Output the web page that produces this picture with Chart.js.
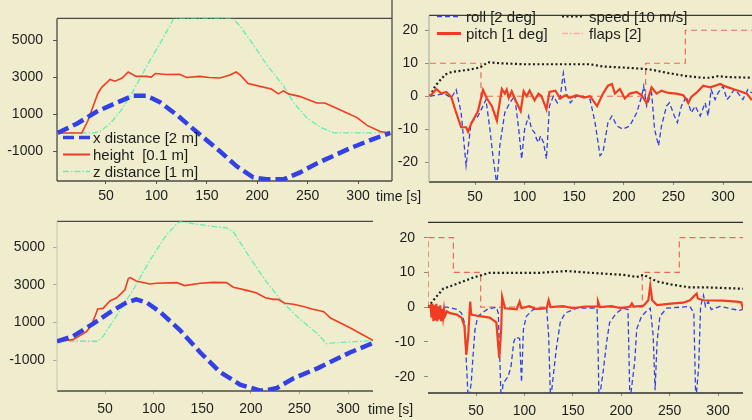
<!DOCTYPE html>
<html>
<head>
<meta charset="utf-8">
<script src="https://cdn.jsdelivr.net/npm/chart.js@4.4.1/dist/chart.umd.min.js"></script>
<style>
  html, body { margin: 0; padding: 0; }
  body {
    width: 752px; height: 420px; position: relative; overflow: hidden;
    background: #efedce;
    font-family: "Liberation Sans", Arial, sans-serif; color: #1e1e1e;
  }
  canvas { position: absolute; }
  .lbl { position: absolute; font-size: 14px; line-height: 16px; white-space: pre; }
  .item { position: absolute; height: 17px; font-size: 15px; line-height: 17px; white-space: pre; }
  .item svg { position: absolute; left: 0; top: 0; }
  .item span { position: absolute; top: 0; }
</style>
</head>
<body>
<canvas id="tl" width="394" height="210" style="left:0;top:0"></canvas>
<canvas id="tr" width="372" height="210" style="left:380px;top:0"></canvas>
<canvas id="bl" width="380" height="215" style="left:0;top:205px"></canvas>
<canvas id="br" width="372" height="215" style="left:380px;top:205px"></canvas>

<div class="lbl" style="left:376px;top:188px">time [s]</div>
<div class="lbl" style="left:368px;top:401px">time [s]</div>

<!-- legend, top left -->
<div class="item" style="left:63px;top:129px">
  <svg width="28" height="17"><line x1="0" y1="8.5" x2="27" y2="8.5" stroke="#3240e6" stroke-width="3.5" stroke-dasharray="11 5"/></svg>
  <span style="left:30px">x distance [2 m]</span>
</div>
<div class="item" style="left:63px;top:146px">
  <svg width="28" height="17"><line x1="0" y1="8.5" x2="27" y2="8.5" stroke="#f23c22" stroke-width="2"/></svg>
  <span style="left:30px">height  [0.1 m]</span>
</div>
<div class="item" style="left:63px;top:163px">
  <svg width="28" height="17"><line x1="0" y1="8.5" x2="27" y2="8.5" stroke="#5ff0b4" stroke-width="1.5" stroke-dasharray="6 2 1.5 2"/></svg>
  <span style="left:30px">z distance [1 m]</span>
</div>

<!-- legend, top right -->
<div class="item" style="left:437px;top:8px">
  <svg width="26" height="17"><line x1="0" y1="8.5" x2="24" y2="8.5" stroke="#3a46e0" stroke-width="1.5" stroke-dasharray="5 3"/></svg>
  <span style="left:29px">roll [2 deg]</span>
</div>
<div class="item" style="left:437px;top:25px">
  <svg width="26" height="17"><line x1="0" y1="8.5" x2="24" y2="8.5" stroke="#f23c22" stroke-width="3"/></svg>
  <span style="left:29px">pitch [1 deg]</span>
</div>
<div class="item" style="left:562px;top:8px">
  <svg width="26" height="17"><line x1="0" y1="8.5" x2="22" y2="8.5" stroke="#1e1e1e" stroke-width="2" stroke-dasharray="2 2.5"/></svg>
  <span style="left:27px">speed [10 m/s]</span>
</div>
<div class="item" style="left:562px;top:25px">
  <svg width="26" height="17"><line x1="0" y1="8.5" x2="22" y2="8.5" stroke="#f7b0a4" stroke-width="1.3" stroke-dasharray="6 2 1.5 2"/></svg>
  <span style="left:27px">flaps [2]</span>
</div>

<script>
// tick labels
const timeTicks = [50, 100, 150, 200, 250, 300];
const distTicks = [-1000, 1000, 3000, 5000];
const angleTicks = [-20, -10, 0, 10, 20];

// top left: [time s, value]
const tlXDist = [[2,0],[21,500],[41,1160],[61,1650],[77,2020],[90,2020],[104,1650],[120,990],[143,-80],[163,-990],[180,-1820],[196,-2400],[209,-2510],[226,-2510],[242,-2150],[259,-1650],[292,-830],[315,-330],[332,0]];
const tlHeight = [[2,0],[26,0],[32,660],[42,2150],[46,2480],[54,2900],[59,2800],[66,2975],[72,3300],[80,3060],[90,3060],[95,3020],[99,3220],[110,3160],[123,3170],[130,3000],[143,3060],[152,3000],[163,2975],[173,3140],[179,3300],[183,3140],[191,2680],[206,2480],[214,2380],[221,2115],[226,2280],[231,2115],[242,1980],[259,1620],[267,1620],[276,1400],[289,1075],[299,830],[309,410],[322,80],[332,0]];
const tlZDist = [[2,0],[37,0],[44,83],[54,496],[64,1157],[74,1983],[84,2975],[94,3967],[104,4876],[114,5867],[117,6200],[176,6200],[183,5780],[196,4790],[209,3720],[226,2560],[236,1650],[249,830],[262,330],[276,0],[332,0]];

// bottom left
const blXDist = [[0.6,0],[17,257],[38,942],[55,1541],[72,2056],[82,2227],[93,2056],[107,1541],[127,599],[148,-600],[168,-1628],[189,-2313],[209,-2620],[216,-2620],[227,-2484],[244,-1970],[268,-1456],[285,-1028],[302,-600],[326,-86]];
const blHeight = [[0.6,0],[17,86],[31,514],[36,857],[40,1370],[42.5,1713],[48,1747],[55,2141],[62,2313],[70.5,2741],[74,3341],[76,3390],[82,3204],[96,3050],[103,3084],[124,3118],[132,2964],[148,3084],[161,3136],[175,3118],[182,2878],[196,2707],[206,2570],[215,2313],[223,2227],[228,2227],[235,2021],[244,1970],[254,1850],[263,1713],[275,1576],[282,1233],[302,719],[326,34]];
const blZDist = [[0.6,0],[43,0],[48,257],[62,1370],[79,2741],[96,4283],[113,5654],[124,6254],[127,6374],[148,6203],[175,6031],[182,5825],[199,4454],[216,3170],[233,2056],[250,1199],[268,428],[278,-137],[285,-86],[326,34]];

// top right
const trRoll = [[4.6,0],[19,0.8],[26,-0.5],[31,2],[36,-5],[41,-21],[46,-8],[53,-6],[58,-3],[61,-1],[65,-10],[68,-18],[72,-27],[75,-15],[80,-5],[85,-2],[90,0],[94,-10],[97,-19],[100,-10],[104,-6],[107,-10],[110,-11],[112,-13],[114,-14],[116,-12],[119,-14],[122,-19],[125,-3],[129,0],[133,-2],[136,0],[139,7],[142,1],[146,-2],[152,0],[159,0],[166,-1],[171,-8],[176,-18],[179,-17],[184,-8],[188,-6],[193,-9],[199,-10],[206,-9],[213,-5],[218,0],[220,3],[223,-3],[228,1],[231,-10],[235,-15],[238,-9],[243,-3],[246,-2],[251,-6],[254,-8],[258,-3],[263,0],[268,-5],[272,-3],[277,-6],[282,-2],[285,-6],[288,2],[292,-1],[295,1],[300,3],[304,-1],[307,0],[311,2],[315,1],[320,-1],[325,2],[329,1]];
const trPitch = [[4.6,0],[11,2.2],[16,0.8],[21,1.3],[26,-0.2],[31,-5],[36,-9.4],[41,-9.4],[43,-10.8],[46,-8.4],[53,-4.5],[58,1.9],[62,-0.7],[67,-3],[72,-7.4],[77,2.2],[80,0.8],[82,2],[84,-0.5],[87,1.5],[90,-0.7],[96,-4.5],[99,1.5],[102,0],[105,1.7],[110,-1.2],[114,0.8],[117,0],[122,-4],[125,1.3],[131,1.7],[136,-0.7],[141,0.3],[146,-0.5],[152,0.3],[160,-0.4],[166,0],[173,-3],[179,0.8],[184,3.2],[188,3.7],[191,0.8],[196,2.2],[201,-0.7],[206,0.8],[213,1.3],[218,0.3],[223,-2.1],[228,2.7],[233,0.8],[238,1.7],[245,1],[253,0.8],[260,0.3],[265,-2.1],[268,-0.2],[273,1],[280,3.2],[287,2.7],[292,3.2],[297,3.7],[303,2.9],[310,2.2],[317,1.5],[324,0.8],[329,-1.2]];
const trSpeed = [[4.6,0],[10,3.2],[20,6.6],[27,7.4],[43,8],[55,8.7],[63,10.3],[75,10],[99,9.7],[132,9.7],[166,9.7],[179,9],[199,8.7],[220,8.3],[229,8],[245,7],[263,6.1],[280,5.6],[287,5.6],[295,6.1],[305,5.8],[329,5.6]];
const trFlaps = [[4.6,10],[56,0],[222,10],[262,20],[329,20]];

// bottom right
const brRoll = [[0.4,0],[20,0],[30,-0.6],[35,-1.7],[38,-4.4],[40,-15.6],[42,-27],[45,-22],[47,-13.7],[49,-6.3],[52,-2.6],[61,-0.7],[71,0],[73,-1.7],[76,-27],[78,-22],[83,-20],[86,-17.4],[89,-10],[91,-8.6],[95,-9],[97,-21.6],[99,-6.3],[102,-2.6],[109,-0.7],[123,-0.3],[125,-8.1],[127,-27],[130,-19.3],[133,-11.9],[137,-4.4],[142,-1.7],[154,-0.3],[175,-0.3],[176,-10],[177,-27],[181,-19.3],[185,-10],[188,-4.4],[195,-1.7],[202,-0.3],[207,-0.7],[209,-27],[214,-15.6],[216,-6.3],[221,-2.6],[226,-1.2],[230,-0.3],[233,-8.1],[235,-23.9],[237,-10],[240,-2.6],[247,-0.3],[261,0],[271,0.2],[275,-1.7],[277,-27],[280,-17.4],[282,0.2],[285,3.4],[287,0.2],[290,1.6],[293,-0.7],[302,0.2],[316,-0.6],[322,-0.9],[326,-0.6]];
const brPitch = [[0.4,0],[3,0.5],[4,-3],[5,1],[6,-4],[7,0.5],[8,-3.8],[9,1],[10,-4],[11,0],[12,-3.5],[13,0.5],[14,-4],[15,-0.5],[16,-3],[17,-0.5],[18,-2.5],[20,-1.2],[23,-1.7],[30,-2.1],[35,-3],[38,-5.4],[40,-13.7],[42,-8],[44,1.6],[45,-2.1],[54,-2.6],[64,-3],[71,-4.4],[74,-14.6],[76,-6.3],[77,3],[80,-0.3],[92,-0.6],[95,1.6],[97,-0.3],[105,0.3],[112,-0.5],[123,-0.3],[125,2],[127,0],[140,0.3],[150,-0.3],[162,0.2],[175,0.2],[176,1.6],[178,0],[190,0.3],[200,-0.3],[209,0.2],[211,1.1],[213,0.2],[223,0.4],[228,2],[230,6.2],[232,2],[237,0.6],[254,1.1],[264,1.3],[271,2],[276,3.4],[278,3.9],[279,2.5],[285,2],[305,1.9],[319,1.6],[324,1.4],[326,-0.7]];
const brSpeed = [[0.4,0],[6,2],[16,5.3],[30,6.7],[47,8.5],[64,9.9],[82,9.9],[116,9.9],[144,10.4],[168,9.9],[202,9.3],[216,8.7],[223,9.3],[237,7.4],[254,6.4],[271,5.7],[288,5.7],[326,5.3]];
const brFlaps = [[0.4,0],[0.5,20],[26.6,10],[54.8,0],[221.8,10],[260,20],[326,20]];

const BLUE = '#3240e6';
const RED = '#f23c22';
const GREEN = '#5ff0b4';
const BLACK = '#1e1e1e';
const FLAPS = 'rgba(238,80,64,0.85)';
const tickFont = { family: '"Liberation Sans", Arial, sans-serif', size: 14 };

const toXY = pairs => pairs.map(p => ({ x: p[0], y: p[1] }));

// draws the box lines around the plot area, under the data
const framePlugin = {
  id: 'frame',
  beforeDatasetsDraw(chart, args, opts) {
    const { ctx, chartArea: a } = chart;
    const side = (c, x1, y1, x2, y2) => {
      if (!c) return;
      ctx.strokeStyle = c;
      ctx.beginPath();
      ctx.moveTo(x1, y1);
      ctx.lineTo(x2, y2);
      ctx.stroke();
    };
    ctx.save();
    ctx.lineWidth = 1.3;
    side(opts.top, a.left, a.top, a.right, a.top);
    side(opts.bottom, a.left, a.bottom, a.right, a.bottom);
    side(opts.left, a.left, a.top, a.left, a.bottom);
    side(opts.right, a.right, opts.rightFrom !== undefined ? opts.rightFrom : a.top, a.right, a.bottom);
    ctx.restore();
  }
};

function line(pairs, color, width, dash, order, stepped) {
  return {
    data: toXY(pairs),
    borderColor: color,
    borderWidth: width,
    borderDash: dash,
    pointRadius: 0,
    tension: 0,
    fill: false,
    clip: 0,
    order: order,
    stepped: stepped || false
  };
}

function makePanel(id, o) {
  return new Chart(document.getElementById(id), {
    type: 'line',
    data: { datasets: o.datasets },
    options: {
      responsive: false,
      animation: false,
      events: [],
      layout: { padding: o.pad },
      plugins: { legend: { display: false }, tooltip: { enabled: false }, frame: o.frame },
      scales: {
        x: {
          type: 'linear', min: o.xMin, max: o.xMax,
          afterBuildTicks: s => { s.ticks = timeTicks.map(v => ({ value: v })); },
          afterFit: s => { s.height = o.xH; },
          ticks: { font: tickFont, color: BLACK, padding: o.xPad, maxRotation: 0, autoSkip: false, callback: v => String(v) },
          grid: { drawOnChartArea: false, tickLength: 3, color: o.tickColor },
          border: { display: false }
        },
        y: {
          type: 'linear', min: o.yMin, max: o.yMax,
          afterBuildTicks: s => { s.ticks = o.yTicks.map(v => ({ value: v })); },
          afterFit: s => { s.width = o.yW; },
          ticks: { font: tickFont, color: BLACK, padding: o.yPad, callback: v => String(v) },
          grid: { drawOnChartArea: false, tickLength: 4, color: o.tickColor },
          border: { display: false }
        }
      }
    },
    plugins: [framePlugin]
  });
}

makePanel('tl', {
  datasets: [
    line(tlXDist, BLUE, 4.5, [12, 5], 1),
    line(tlHeight, RED, 1.6, [], 2),
    line(tlZDist, GREEN, 1.3, [6, 2, 1.5, 2], 3)
  ],
  pad: { top: 7, right: 2, bottom: 0, left: 0 },
  xMin: 1.4, xMax: 333.7, xH: 29, xPad: 4,
  yMin: -2600, yMax: 6200, yW: 57, yPad: 10, yTicks: distTicks,
  tickColor: '#555',
  frame: { top: '#4a4a44', bottom: '#4a4a44', left: '#4a4a44', right: '#4a4a44', rightFrom: -7 }
});

makePanel('tr', {
  datasets: [
    line(trPitch, RED, 2.2, [], 1),
    line(trRoll, BLUE, 1.3, [5, 3], 2),
    line(trSpeed, BLACK, 2.2, [2, 2.5], 3),
    line(trFlaps, FLAPS, 1.2, [6, 4], 4, true)
  ],
  pad: { top: 8, right: 0, bottom: 0, left: 0 },
  xMin: 3.6, xMax: 329.2, xH: 28, xPad: 4,
  yMin: -26, yMax: 24.5, yW: 49, yPad: 7, yTicks: angleTicks,
  tickColor: '#888',
  frame: { top: '#3a3a36', bottom: '#3a3a36', left: '#b8b6a4' }
});

makePanel('bl', {
  datasets: [
    line(blXDist, BLUE, 4.5, [12, 5], 1),
    line(blHeight, RED, 1.6, [], 2),
    line(blZDist, GREEN, 1.3, [6, 2, 1.5, 2], 3)
  ],
  pad: { top: 11, right: 7, bottom: 0, left: 0 },
  xMin: 0.6, xMax: 325.7, xH: 29, xPad: 7,
  yMin: -2650, yMax: 6380, yW: 57, yPad: 8, yTicks: distTicks,
  tickColor: '#aaa',
  frame: { top: '#4a4a44', bottom: '#4a4a44', left: '#cfcdb6' }
});

makePanel('br', {
  datasets: [
    line(brPitch, RED, 2.2, [], 1),
    line(brRoll, BLUE, 1.3, [5, 3], 2),
    line(brSpeed, BLACK, 2.2, [2, 2.5], 3),
    line(brFlaps, FLAPS, 1.2, [6, 4], 4, true)
  ],
  pad: { top: 11, right: 9, bottom: 0, left: 0 },
  xMin: 0.4, xMax: 325.8, xH: 27, xPad: 7,
  yMin: -24.7, yMax: 24.4, yW: 48, yPad: 9, yTicks: angleTicks,
  tickColor: '#888',
  frame: { top: '#2e2e2a', bottom: '#2e2e2a' }
});
</script>
</body>
</html>
